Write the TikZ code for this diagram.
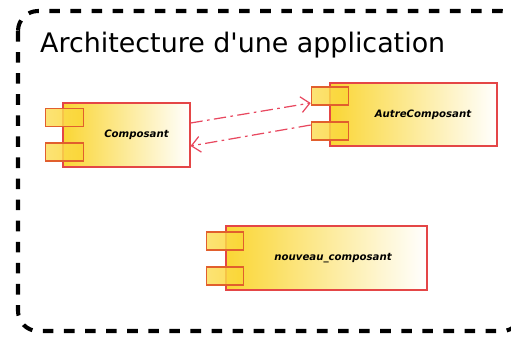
\documentclass[tikz,border=0pt]{standalone}
\usepackage{fontspec}
\setmainfont{DejaVu Sans}
\usetikzlibrary{arrows.meta}
\definecolor{compyellow}{RGB}{250,214,52}
\definecolor{compred}{RGB}{228,70,70}
\definecolor{portred}{RGB}{225,95,45}
\definecolor{linkred}{RGB}{232,72,95}
\tikzset{
  comp/.style={draw=compred,line width=0.6pt,left color=compyellow,right color=white,
    minimum height=1.28cm,inner sep=0pt},
  complabel/.style={font=\fontsize{5.8}{7}\selectfont\bfseries\itshape},
  port/.style={draw=portred,line width=0.6pt,left color=compyellow!80!white,right color=compyellow,
    fill opacity=0.85,minimum width=0.75cm,minimum height=0.36cm,inner sep=0pt},
  link/.style={linkred,line width=0.7pt,dash pattern=on 7pt off 2.5pt on 1.5pt off 2.5pt,
    -{Straight Barb[length=5pt,width=9pt]}}
}

\begin{document}
\begin{tikzpicture}[x=0.02cm,y=-0.02cm]
\useasboundingbox (0,0) rectangle (511,341);
\draw[line width=2.3pt,dash pattern=on 6pt off 6pt,rounded corners=0.4cm] (18,11) rectangle (522,331);
\node[anchor=base west,font=\fontsize{15.3}{18}\selectfont] (title) at (34,53) {Architecture d\textquotesingle une application};

\node[comp,minimum width=2.54cm,label={[xshift=0.2cm,complabel]center:Composant}] (comp) at (126.5,135) {};
\node[port] (compA) at (64.5,117.5) {};
\node[port] (compB) at (64.5,152) {};

\node[comp,minimum width=3.34cm,minimum height=1.26cm,label={[xshift=0.19cm,complabel]center:AutreComposant}] (autre) at (413.5,114.5) {};
\node[port] (autreA) at (330,96) {};
\node[port] (autreB) at (330,131) {};

\node[comp,minimum width=4.02cm,label={[xshift=0.13cm,complabel]center:nouveau\_composant}] (nouveau) at (326.5,258) {};
\node[port] (nouveauA) at (225,241) {};
\node[port] (nouveauB) at (225,276) {};

\draw[link] ([yshift=0.24cm]comp.east) -- ([yshift=-0.14cm]autreA.west);
\draw[link] ([yshift=0.12cm]autreB.west) -- ([yshift=-0.22cm]comp.east);
\end{tikzpicture}
\end{document}
